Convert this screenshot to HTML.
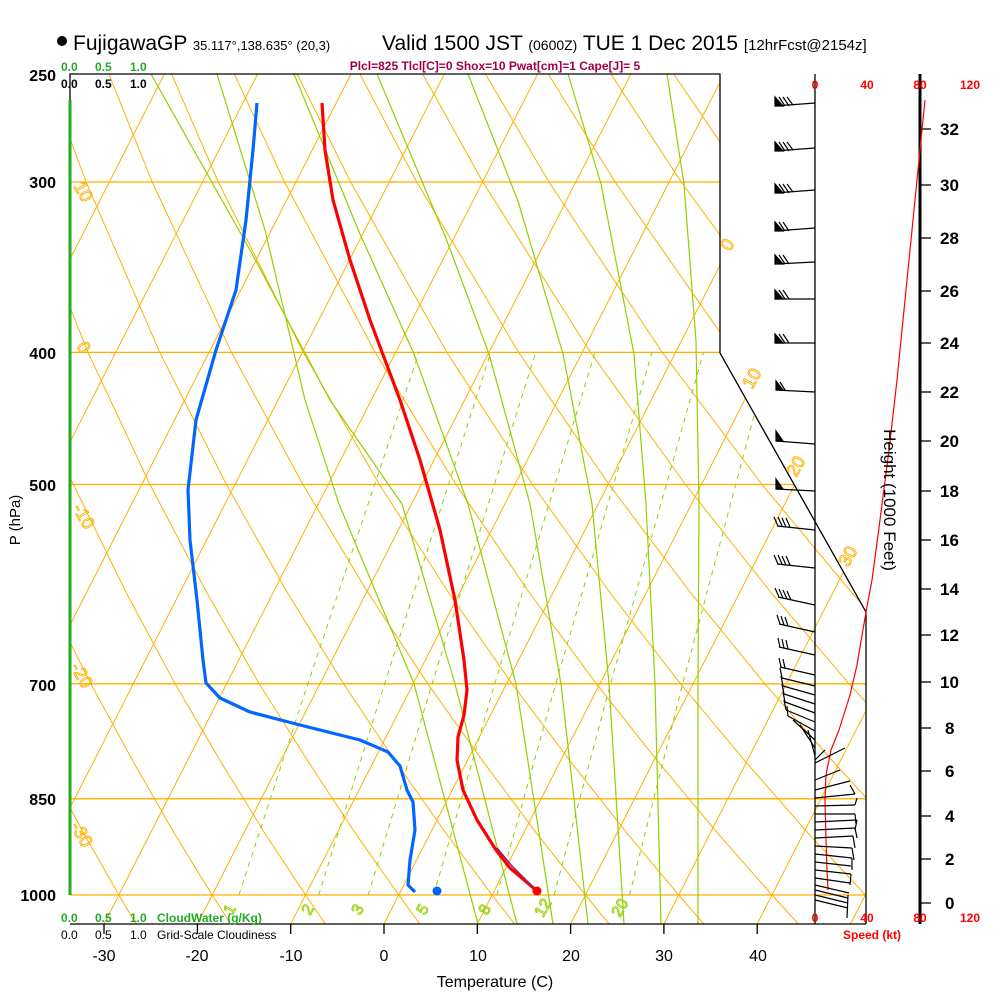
<!DOCTYPE html>
<html><head><meta charset="utf-8"><style>
html,body{margin:0;padding:0;background:#fff;width:1000px;height:1000px;overflow:hidden}
svg{display:block;font-family:"Liberation Sans",sans-serif}
</style></head><body>
<svg width="1000" height="1000" viewBox="0 0 1000 1000" xmlns="http://www.w3.org/2000/svg">
<defs><clipPath id="c"><polygon points="70,74 720,74 720,353 866,612 866,924 70,924"/></clipPath></defs>
<g clip-path="url(#c)" fill="none">
<g stroke="#ffb000" stroke-width="1.3">
<line x1="70" x2="866" y1="182" y2="182"/><line x1="70" x2="866" y1="352.4" y2="352.4"/><line x1="70" x2="866" y1="484.5" y2="484.5"/><line x1="70" x2="866" y1="683.8" y2="683.8"/><line x1="70" x2="866" y1="798.8" y2="798.8"/><line x1="70" x2="866" y1="895" y2="895"/>
</g>
<g stroke="#ffb000" stroke-width="1">
<line x1="-269.1" y1="924" x2="164.4" y2="74"/>
<line x1="-175.8" y1="924" x2="257.7" y2="74"/>
<line x1="-82.5" y1="924" x2="351" y2="74"/>
<line x1="10.8" y1="924" x2="444.3" y2="74"/>
<line x1="104.1" y1="924" x2="537.6" y2="74"/>
<line x1="197.4" y1="924" x2="630.9" y2="74"/>
<line x1="290.7" y1="924" x2="724.2" y2="74"/>
<line x1="384" y1="924" x2="817.5" y2="74"/>
<line x1="477.3" y1="924" x2="910.8" y2="74"/>
<line x1="570.6" y1="924" x2="1004.1" y2="74"/>
<line x1="663.9" y1="924" x2="1097.4" y2="74"/>
<line x1="757.2" y1="924" x2="1190.7" y2="74"/>
<line x1="850.5" y1="924" x2="1284" y2="74"/>
</g>
<g stroke="#ffb000" stroke-width="1">
<polyline points="41.4,923.9 25.6,895 -7.2,832.6 -41.1,762.9"/>
<polyline points="136,923.9 118.9,895 83.3,832.6 46.4,762.9 6.6,683.8 -35.2,592.5"/>
<polyline points="230.6,923.9 212.2,895 173.9,832.6 133.9,762.9 90.8,683.8 45.4,592.5 -3.2,484.5"/>
<polyline points="325.2,923.9 305.5,895 264.4,832.6 221.5,762.9 175.1,683.8 126.1,592.5 73.4,484.5 16.2,352.4"/>
<polyline points="419.8,923.9 398.8,895 354.9,832.6 309,762.9 259.3,683.8 206.7,592.5 149.9,484.5 88,352.4 20,182"/>
<polyline points="514.5,923.9 492.1,895 445.5,832.6 396.5,762.9 343.6,683.8 287.3,592.5 226.4,484.5 159.8,352.4 86.1,182 46.1,74"/>
<polyline points="609.1,923.9 585.4,895 536,832.6 484.1,762.9 427.8,683.8 367.9,592.5 302.9,484.5 231.5,352.4 152.2,182 108.9,74"/>
<polyline points="703.7,923.9 678.7,895 626.5,832.6 571.6,762.9 512.1,683.8 448.5,592.5 379.4,484.5 303.3,352.4 218.3,182 171.6,74"/>
<polyline points="798.3,923.9 772,895 717.1,832.6 659.1,762.9 596.3,683.8 529.2,592.5 456,484.5 375.1,352.4 284.5,182 234.4,74"/>
<polyline points="892.9,923.9 865.3,895 807.6,832.6 746.7,762.9 680.6,683.8 609.8,592.5 532.5,484.5 446.9,352.4 350.6,182 297.1,74"/>
<polyline points="987.5,923.9 958.6,895 898.1,832.6 834.2,762.9 764.8,683.8 690.4,592.5 609,484.5 518.7,352.4 416.7,182 359.9,74"/>
<polyline points="1082,923.9 1051.9,895 988.6,832.6 921.7,762.9 849.1,683.8 771,592.5 685.5,484.5 590.5,352.4 482.8,182 422.7,74"/>
<polyline points="1079.2,832.6 1009.3,762.9 933.3,683.8 851.6,592.5 762,484.5 662.3,352.4 548.9,182 485.4,74"/>
<polyline points="1017.5,683.8 932.3,592.5 838.6,484.5 734.1,352.4 615.1,182 548.2,74"/>
<polyline points="1012.9,592.5 915.1,484.5 805.9,352.4 681.2,182 610.9,74"/>
<polyline points="991.6,484.5 877.7,352.4 747.3,182 673.7,74"/>
<polyline points="949.4,352.4 813.4,182 736.5,74"/>
</g>
<g stroke="#90d000" stroke-width="1.2">
<polyline points="151,74 250,250 330,400 402,504 455,684 517,924"/>
<polyline points="217,74 265,230 305,400 339,504 414,684 478,924"/>
<polyline points="294,74 360,234 414,354 468,504 516,684 553,924"/>
<polyline points="377,74 447,241 489,354 530,504 561,684 588,924"/>
<polyline points="468,74 518,201 563,354 592,504 609,684 624,924"/>
<polyline points="568,74 601,184 634,354 646,504 655,684 661,924"/>
<polyline points="667,74 684,184 696,341 699,504 698,684 698,924"/>
</g>
<g stroke="#90d000" stroke-width="1" stroke-dasharray="5,5">
<polyline points="239,895 307.8,683.8 419,352.4"/>
<polyline points="318.7,895 384.6,683.8 490.8,352.4"/>
<polyline points="368.2,895 432.1,683.8 535.7,352.4"/>
<polyline points="433.6,895 494.8,683.8 594.9,352.4"/>
<polyline points="496.9,895 555.7,683.8 652,352.4"/>
<polyline points="554.1,895 610.5,683.8 703.4,352.4"/>
<polyline points="629.5,895 682.7,683.8 770.9,352.4"/>
</g>
</g>
<g stroke="#000" fill="none" stroke-width="1.3">
<polyline points="70,100 70,74 720,74 720,353 866,612 866,924"/>
<line x1="70" y1="924" x2="866" y2="924"/>
<line x1="815" y1="74" x2="815" y2="924"/>
</g>
<line x1="70" y1="100" x2="70" y2="895" stroke="#22aa22" stroke-width="3"/>
<line x1="920" y1="74" x2="920" y2="924" stroke="#000" stroke-width="3"/>
<g stroke="#000" stroke-width="1.3">
<line x1="104" x2="104" y1="924" y2="934"/><line x1="197.4" x2="197.4" y1="924" y2="934"/><line x1="290.7" x2="290.7" y1="924" y2="934"/><line x1="384" x2="384" y1="924" y2="934"/><line x1="477.3" x2="477.3" y1="924" y2="934"/><line x1="570.6" x2="570.6" y1="924" y2="934"/><line x1="663.9" x2="663.9" y1="924" y2="934"/><line x1="757.2" x2="757.2" y1="924" y2="934"/>
<line x1="920" x2="931" y1="903" y2="903"/><line x1="920" x2="931" y1="859" y2="859"/><line x1="920" x2="931" y1="816" y2="816"/><line x1="920" x2="931" y1="771" y2="771"/><line x1="920" x2="931" y1="728" y2="728"/><line x1="920" x2="931" y1="682" y2="682"/><line x1="920" x2="931" y1="635" y2="635"/><line x1="920" x2="931" y1="589" y2="589"/><line x1="920" x2="931" y1="540" y2="540"/><line x1="920" x2="931" y1="491" y2="491"/><line x1="920" x2="931" y1="441" y2="441"/><line x1="920" x2="931" y1="392" y2="392"/><line x1="920" x2="931" y1="343" y2="343"/><line x1="920" x2="931" y1="291" y2="291"/><line x1="920" x2="931" y1="238" y2="238"/><line x1="920" x2="931" y1="185" y2="185"/><line x1="920" x2="931" y1="129" y2="129"/>
</g>
<g font-size="17" font-weight="bold">
<text x="945" y="909">0</text><text x="945" y="865">2</text><text x="945" y="822">4</text><text x="945" y="777">6</text><text x="945" y="734">8</text><text x="940" y="688">10</text><text x="940" y="641">12</text><text x="940" y="595">14</text><text x="940" y="546">16</text><text x="940" y="497">18</text><text x="940" y="447">20</text><text x="940" y="398">22</text><text x="940" y="349">24</text><text x="940" y="297">26</text><text x="940" y="244">28</text><text x="940" y="191">30</text><text x="940" y="135">32</text>
</g>
<g fill="none" stroke-linejoin="round">
<polyline stroke="#ff0000" stroke-width="3.2" points="322,103 325,150 333,200 350,260 370,320 385,360 400,400 420,460 440,530 455,600 464,660 467,690 464,715 458,737 457,760 463,790 477,820 496,850 510,868 537,891"/>
<polyline stroke="#8a2070" stroke-width="1.5" points="497,848 512,866 535,889"/>
<polyline stroke="#0066ff" stroke-width="3.2" points="257,103 253,150 246,220 236,290 216,350 196,420 188,490 190,540 197,600 203,660 206,683 220,698 250,712 300,725 360,740 388,752 400,766 407,790 413,802 415,830 410,860 408,885 415,892"/>
<polyline stroke="#ff0000" stroke-width="1.2" points="925,100 920,150 913,220 905,300 897,380 889,450 880,520 872,580 866,612 857,665 850,695 839,730 831,750 826,775 825,800 826,840 827,870 828,890"/>
</g>
<circle cx="537" cy="891" r="4.5" fill="#ff0000"/>
<circle cx="437" cy="891" r="4.5" fill="#0066ff"/>
<g stroke="#000" stroke-width="1.2" fill="#000">
<line x1="775" y1="106" x2="815" y2="103"/><polygon points="775,106 775,97 783,106"/><line x1="785" y1="106" x2="779" y2="97"/><line x1="789" y1="106" x2="783" y2="97"/><line x1="793" y1="105" x2="787" y2="97"/>
<line x1="775" y1="151" x2="815" y2="148"/><polygon points="775,151 775,142 783,151"/><line x1="785" y1="151" x2="779" y2="142"/><line x1="789" y1="151" x2="783" y2="142"/><line x1="793" y1="150" x2="787" y2="142"/>
<line x1="775" y1="193" x2="815" y2="190"/><polygon points="775,193 775,184 783,193"/><line x1="785" y1="193" x2="779" y2="184"/><line x1="789" y1="193" x2="783" y2="184"/><line x1="793" y1="192" x2="787" y2="184"/>
<line x1="775" y1="231" x2="815" y2="228"/><polygon points="775,231 775,222 783,231"/><line x1="785" y1="231" x2="779" y2="222"/><line x1="789" y1="231" x2="783" y2="222"/>
<line x1="775" y1="264" x2="815" y2="262"/><polygon points="775,264 775,255 783,264"/><line x1="785" y1="264" x2="779" y2="255"/><line x1="789" y1="264" x2="783" y2="255"/>
<line x1="775" y1="299" x2="815" y2="299"/><polygon points="775,299 775,290 783,299"/><line x1="785" y1="299" x2="779" y2="290"/><line x1="789" y1="299" x2="783" y2="290"/>
<line x1="775" y1="343" x2="815" y2="343"/><polygon points="775,343 775,334 783,343"/><line x1="785" y1="343" x2="779" y2="334"/><line x1="789" y1="343" x2="783" y2="334"/>
<line x1="776" y1="390" x2="815" y2="392"/><polygon points="776,390 776,381 783,390"/><line x1="785" y1="390" x2="780" y2="382"/>
<line x1="776" y1="441" x2="815" y2="444"/><polygon points="776,441 776,431 783,441"/>
<line x1="776" y1="489" x2="815" y2="491"/><polygon points="776,489 776,479 783,489"/>
<line x1="777" y1="526" x2="815" y2="530"/><line x1="778" y1="526" x2="774" y2="517"/><line x1="782" y1="526" x2="778" y2="517"/><line x1="786" y1="527" x2="782" y2="518"/><line x1="790" y1="527" x2="786" y2="518"/>
<line x1="777" y1="564" x2="815" y2="568"/><line x1="778" y1="564" x2="774" y2="555"/><line x1="782" y1="564" x2="778" y2="555"/><line x1="786" y1="565" x2="782" y2="556"/><line x1="790" y1="565" x2="786" y2="556"/>
<line x1="778" y1="597" x2="815" y2="605"/><line x1="779" y1="597" x2="775" y2="588"/><line x1="783" y1="598" x2="779" y2="589"/><line x1="787" y1="599" x2="783" y2="590"/><line x1="791" y1="600" x2="787" y2="591"/>
<line x1="779" y1="624" x2="815" y2="632"/><line x1="780" y1="624" x2="777" y2="615"/><line x1="784" y1="625" x2="781" y2="616"/><line x1="788" y1="626" x2="785" y2="617"/>
<line x1="779" y1="647" x2="815" y2="655"/><line x1="780" y1="647" x2="778" y2="638"/><line x1="784" y1="648" x2="782" y2="639"/><line x1="788" y1="649" x2="786" y2="640"/>
<line x1="780" y1="667" x2="815" y2="675"/><line x1="781" y1="667" x2="779" y2="658"/><line x1="785" y1="668" x2="783" y2="659"/>
<line x1="815" y1="686" x2="782" y2="678"/><line x1="782" y1="678" x2="780" y2="668"/>
<line x1="815" y1="695" x2="783" y2="686"/><line x1="783" y1="686" x2="781" y2="676"/>
<line x1="815" y1="704" x2="784" y2="694"/><line x1="784" y1="694" x2="782" y2="684"/>
<line x1="815" y1="713" x2="785" y2="702"/><line x1="785" y1="702" x2="783" y2="692"/>
<line x1="815" y1="722" x2="786" y2="710"/><line x1="786" y1="710" x2="784" y2="700"/>
<line x1="815" y1="731" x2="788" y2="716"/><line x1="788" y1="716" x2="787" y2="706"/>
<line x1="815" y1="740" x2="793" y2="720"/><line x1="815" y1="748" x2="800" y2="725"/><line x1="815" y1="756" x2="808" y2="730"/>
<line x1="815" y1="763" x2="845" y2="748"/><line x1="815" y1="780" x2="840" y2="770"/><line x1="815" y1="760" x2="825" y2="750"/>
<line x1="815" y1="790" x2="850" y2="781"/><line x1="815" y1="798" x2="855" y2="794"/><line x1="855" y1="794" x2="850" y2="785"/>
<line x1="815" y1="806" x2="855" y2="805"/><line x1="855" y1="805" x2="857" y2="798"/>
<line x1="815" y1="814" x2="855" y2="814"/><line x1="855" y1="814" x2="856" y2="824"/>
<line x1="815" y1="822" x2="857" y2="820"/><line x1="857" y1="820" x2="855" y2="830"/>
<line x1="815" y1="830" x2="855" y2="828"/><line x1="855" y1="828" x2="857" y2="838"/>
<line x1="815" y1="838" x2="853" y2="836"/><line x1="853" y1="836" x2="855" y2="848"/>
<line x1="815" y1="846" x2="852" y2="848"/><line x1="852" y1="848" x2="854" y2="860"/>
<line x1="815" y1="854" x2="852" y2="858"/><line x1="852" y1="858" x2="852" y2="870"/>
<line x1="815" y1="862" x2="851" y2="866"/><line x1="815" y1="870" x2="851" y2="874"/><line x1="851" y1="874" x2="850" y2="885"/>
<line x1="815" y1="878" x2="850" y2="883"/><line x1="815" y1="885" x2="849" y2="893"/><line x1="815" y1="890" x2="848" y2="898"/>
<line x1="815" y1="895" x2="848" y2="903"/><line x1="815" y1="900" x2="848" y2="908"/><line x1="848" y1="895" x2="847" y2="918"/>
</g>
<circle cx="62" cy="41" r="5" fill="#000"/>
<text x="73" y="50" font-size="21">FujigawaGP <tspan font-size="13">35.117°,138.635° (20,3)</tspan></text>
<text x="382" y="50" font-size="21">Valid 1500 JST <tspan font-size="14">(0600Z)</tspan> TUE 1 Dec 2015 <tspan font-size="15">[12hrFcst@2154z]</tspan></text>
<text x="495" y="70" font-size="12" font-weight="bold" fill="#a0004a" text-anchor="middle">Plcl=825 Tlcl[C]=0 Shox=10 Pwat[cm]=1 Cape[J]= 5</text>
<g font-size="12" font-weight="bold">
<text x="61" y="71" fill="#22aa22">0.0</text><text x="95" y="71" fill="#22aa22">0.5</text><text x="130" y="71" fill="#22aa22">1.0</text>
<text x="61" y="88">0.0</text><text x="95" y="88">0.5</text><text x="130" y="88">1.0</text>
<text x="61" y="922" fill="#22aa22">0.0</text><text x="95" y="922" fill="#22aa22">0.5</text><text x="130" y="922" fill="#22aa22">1.0</text>
<text x="157" y="922" fill="#22aa22">CloudWater (g/Kg)</text>
<text x="61" y="939" font-weight="normal">0.0</text><text x="95" y="939" font-weight="normal">0.5</text><text x="130" y="939" font-weight="normal">1.0</text>
<text x="157" y="939" font-weight="normal">Grid-Scale Cloudiness</text>
</g>
<g font-size="16" font-weight="bold" text-anchor="end">
<text x="56" y="81">250</text><text x="56" y="188">300</text><text x="56" y="359">400</text><text x="56" y="491">500</text><text x="56" y="691">700</text><text x="56" y="805">850</text><text x="56" y="901">1000</text>
</g>
<text transform="translate(20,520) rotate(-90)" font-size="15" text-anchor="middle">P (hPa)</text>
<g font-size="16" text-anchor="middle">
<text x="104" y="961">-30</text><text x="197" y="961">-20</text><text x="291" y="961">-10</text><text x="384" y="961">0</text><text x="478" y="961">10</text><text x="571" y="961">20</text><text x="664" y="961">30</text><text x="758" y="961">40</text>
</g>
<text x="495" y="987" font-size="16" text-anchor="middle">Temperature (C)</text>
<g font-size="12" font-weight="bold" fill="#ff0000" text-anchor="middle">
<text x="815" y="89">0</text><text x="867" y="89">40</text><text x="920" y="89">80</text><text x="970" y="89">120</text>
<text x="815" y="922">0</text><text x="867" y="922">40</text><text x="920" y="922">80</text><text x="970" y="922">120</text>
<text x="872" y="939">Speed (kt)</text>
</g>
<text transform="translate(884,500) rotate(90)" font-size="17" text-anchor="middle">Height (1000 Feet)</text>
<g font-size="18" fill="none" stroke="#ffb000" stroke-width="0.9">
<text transform="translate(73,186) rotate(60)">10</text>
<text transform="translate(76,346) rotate(60)">0</text>
<text transform="translate(72,508) rotate(60)">-10</text>
<text transform="translate(70,667) rotate(60)">-20</text>
<text transform="translate(70,826) rotate(60)">-30</text>
<text transform="translate(730,252) rotate(-60)">0</text>
<text transform="translate(752,390) rotate(-60)">10</text>
<text transform="translate(796,478) rotate(-60)">20</text>
<text transform="translate(848,568) rotate(-60)">30</text>
</g>
<g font-size="16" fill="none" stroke="#90d000" stroke-width="0.9">
<text transform="translate(232,916) rotate(-60)">1</text>
<text transform="translate(310,916) rotate(-60)">2</text>
<text transform="translate(360,916) rotate(-60)">3</text>
<text transform="translate(425,916) rotate(-60)">5</text>
<text transform="translate(487,916) rotate(-60)">8</text>
<text transform="translate(543,918) rotate(-60)">12</text>
<text transform="translate(620,918) rotate(-60)">20</text>
</g>
</svg>
</body></html>
